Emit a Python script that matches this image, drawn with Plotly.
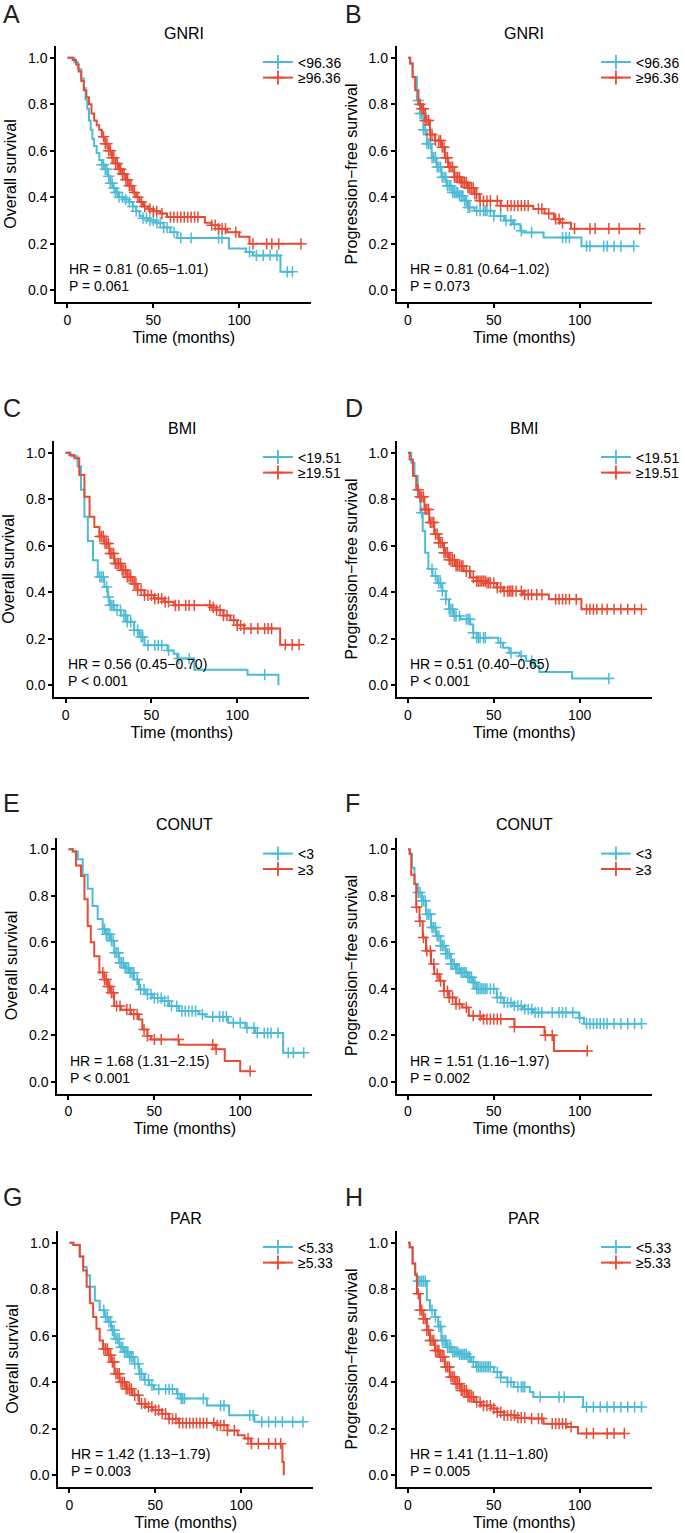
import plotly.graph_objects as go

# ---------------- data ----------------
BLUE = "#4DBBD5"
RED = "#E64B35"

panel_letters = ["A", "B", "C", "D", "E", "F", "G", "H"]
panel_titles = ["GNRI", "GNRI", "BMI", "BMI", "CONUT", "CONUT", "PAR", "PAR"]
y_titles = ["Overall survival", "Progression\u2212free survival"] * 4
group_lo = ["<96.36", "<96.36", "<19.51", "<19.51", "<3", "<3", "<5.33", "<5.33"]
group_hi = ["\u226596.36", "\u226596.36", "\u226519.51", "\u226519.51", "\u22653", "\u22653", "\u22655.33", "\u22655.33"]
hr_text = ["HR = 0.81 (0.65\u22121.01)", "HR = 0.81 (0.64\u22121.02)", "HR = 0.56 (0.45\u22120.70)",
           "HR = 0.51 (0.40\u22120.65)", "HR = 1.68 (1.31\u22122.15)", "HR = 1.51 (1.16\u22121.97)",
           "HR = 1.42 (1.13\u22121.79)", "HR = 1.41 (1.11\u22121.80)"]
p_text = ["P = 0.061", "P = 0.073", "P < 0.001", "P < 0.001", "P < 0.001", "P = 0.002", "P = 0.003", "P = 0.005"]

# Panel A (OS, GNRI)
A_lo_t = [4, 6, 8, 9.5, 10.5, 11.5, 12.5, 13.5, 14.5, 15.5, 17, 18.5, 20, 22, 23.5, 25, 26.5, 28, 30, 33, 36, 38, 40, 42, 44, 47, 52, 56, 60, 64, 94, 104, 108, 124]
A_lo_s = [0.98, 0.95, 0.91, 0.87, 0.82, 0.78, 0.73, 0.69, 0.65, 0.62, 0.59, 0.56, 0.54, 0.52, 0.49, 0.46, 0.44, 0.42, 0.40, 0.39, 0.38, 0.36, 0.34, 0.32, 0.31, 0.30, 0.29, 0.27, 0.25, 0.225, 0.18, 0.165, 0.15, 0.08]
A_lo_c = [20, 21, 22, 23, 24, 25, 26, 27, 28, 29, 30, 32, 34, 36, 38, 40, 44, 46, 48, 50, 52, 54, 56, 58, 62, 66, 72, 88, 90, 106, 110, 114, 118, 122, 128, 131]
A_hi_t = [3, 5, 6.5, 8, 9.5, 11, 12.5, 14, 15.5, 17, 18.5, 20, 22, 24, 26, 28, 30, 32, 34, 36, 38, 40, 42, 44, 47, 50, 54, 58, 80, 84, 88, 93, 100, 106]
A_hi_s = [0.99, 0.97, 0.94, 0.90, 0.86, 0.83, 0.80, 0.76, 0.73, 0.71, 0.69, 0.66, 0.63, 0.60, 0.57, 0.545, 0.52, 0.50, 0.475, 0.45, 0.42, 0.40, 0.38, 0.36, 0.35, 0.34, 0.33, 0.315, 0.29, 0.28, 0.265, 0.25, 0.23, 0.20]
A_hi_c = [21, 22, 23, 24, 25, 26, 27, 28, 29, 30, 31, 32, 33, 34, 35, 36, 37, 39, 41, 43, 45, 48, 50, 52, 55, 60, 62, 64, 66, 68, 70, 72, 74, 76, 84, 86, 88, 90, 92, 98, 108, 116, 119, 123, 136]

# Panel B (PFS, GNRI)
B_lo_t = [1.3, 2.7, 5.2, 7, 9, 11, 13.8, 16.7, 19.5, 22.4, 26, 30, 33, 35, 38.7, 50, 56, 61, 65.5, 67, 79, 101]
B_lo_s = [0.975, 0.917, 0.816, 0.76, 0.69, 0.63, 0.57, 0.53, 0.486, 0.45, 0.42, 0.407, 0.385, 0.356, 0.342, 0.32, 0.30, 0.284, 0.256, 0.249, 0.227, 0.19]
B_lo_c = [6, 7, 8, 9, 10, 11, 12, 13, 14, 15, 16, 17, 18, 19, 20, 21, 22, 23, 24, 25, 26, 27, 28, 29, 30, 31, 32, 33, 34, 35, 36, 40, 42, 44, 45, 46, 48, 50, 54, 57, 60, 62, 66, 72, 90, 92, 94, 104, 106, 114, 116, 120, 124, 131.5]
B_hi_t = [1.3, 2.7, 4.2, 6.1, 8, 10, 12.8, 15.7, 19.5, 21.5, 23.4, 27, 31, 35, 38.7, 41.6, 54, 73, 79.5, 85, 88.5, 95]
B_hi_s = [0.975, 0.917, 0.86, 0.80, 0.78, 0.73, 0.67, 0.644, 0.615, 0.57, 0.53, 0.486, 0.464, 0.44, 0.414, 0.385, 0.364, 0.35, 0.33, 0.306, 0.29, 0.265]
B_hi_c = [7, 8, 9, 10, 11, 12, 13, 14, 16, 18, 19, 20, 21, 22, 23, 24, 25, 26, 27, 28, 29, 30, 31, 32, 33, 34, 35, 36, 37, 38, 39, 40, 42, 44, 46, 48, 52, 54, 58, 60, 62, 64, 66, 68, 70, 76, 78, 82, 86, 88, 90, 97, 106, 109, 117, 123, 135]

# Panel C (OS, BMI)
C_lo_t = [3, 7, 9, 11, 13, 16, 18.8, 22.6, 24.6, 25.5, 28.4, 32.3, 36, 40, 43, 46, 59.4, 63, 65, 75, 106, 124]
C_lo_s = [0.985, 0.94, 0.84, 0.725, 0.62, 0.538, 0.466, 0.423, 0.38, 0.344, 0.323, 0.30, 0.273, 0.237, 0.208, 0.172, 0.15, 0.136, 0.115, 0.067, 0.046, 0.0]
C_lo_c = [20, 21, 22, 24, 25, 26, 27, 28, 30, 32, 34, 35, 36, 38, 40, 42, 44, 45, 48, 52, 54, 56, 60, 66, 72, 116]
C_hi_t = [2.3, 5.2, 8, 11, 14, 16.8, 19.7, 22.6, 25.5, 28.4, 32.3, 36, 39, 42, 46, 51.6, 57.4, 63, 84.5, 88, 92, 96, 100, 104, 125]
C_hi_s = [0.99, 0.976, 0.904, 0.81, 0.725, 0.68, 0.64, 0.61, 0.567, 0.524, 0.495, 0.466, 0.437, 0.409, 0.387, 0.373, 0.359, 0.344, 0.335, 0.323, 0.30, 0.28, 0.258, 0.244, 0.175]
C_hi_c = [20, 21, 22, 23, 24, 25, 26, 27, 28, 29, 30, 31, 32, 33, 34, 35, 36, 37, 38, 40, 41, 42, 44, 46, 48, 50, 52, 54, 56, 58, 60, 64, 66, 70, 72, 75, 84, 86, 88, 90, 92, 94, 98, 100, 102, 104, 108, 112, 116, 118, 120, 128, 132, 136]

# Panel D (PFS, BMI)
D_lo_t = [1.9, 3.8, 5.7, 7.3, 8.6, 10, 11.9, 14.3, 17.2, 20, 22, 23.9, 26.8, 30.6, 36.3, 38, 40, 52.6, 55.4, 59, 65, 68.8, 73.6, 76.5, 95.6]
D_lo_s = [0.957, 0.90, 0.807, 0.742, 0.663, 0.57, 0.50, 0.47, 0.44, 0.405, 0.37, 0.327, 0.298, 0.284, 0.262, 0.226, 0.205, 0.183, 0.162, 0.14, 0.126, 0.105, 0.083, 0.057, 0.029]
D_lo_c = [8, 14, 16, 18, 19, 20, 22, 24, 25, 26, 27, 28, 30, 34, 35, 36, 38, 40, 41, 42, 44, 45, 54, 60, 66, 72, 117]
D_hi_t = [1, 2.9, 4.8, 6.7, 9.6, 12.4, 15.3, 18, 21, 24, 27.7, 32.5, 36.3, 40, 46, 51.6, 55.4, 67, 82, 101]
D_hi_s = [0.97, 0.90, 0.84, 0.81, 0.756, 0.70, 0.65, 0.613, 0.57, 0.54, 0.513, 0.49, 0.463, 0.448, 0.44, 0.42, 0.405, 0.39, 0.37, 0.327]
D_hi_c = [6, 7, 8, 9, 10, 11, 12, 13, 14, 15, 16, 17, 18, 19, 20, 21, 22, 23, 24, 25, 26, 27, 28, 29, 30, 31, 32, 34, 36, 38, 40, 41, 42, 43, 44, 45, 46, 47, 48, 50, 52, 54, 56, 58, 59, 60, 61, 63, 66, 68, 70, 72, 75, 78, 86, 88, 90, 92, 94, 98, 104, 106, 108, 110, 113, 116, 120, 124, 128, 132, 136]

# Panel E (OS, CONUT)
E_lo_t = [2.5, 5.4, 8.3, 11.2, 14, 17, 19.9, 21.8, 24.7, 26.6, 29.5, 32.4, 35.3, 38.2, 41, 45, 48.8, 54.6, 58.5, 64.3, 75.9, 79.7, 93, 103, 108.7, 125]
E_lo_s = [0.99, 0.957, 0.89, 0.83, 0.756, 0.70, 0.656, 0.634, 0.606, 0.555, 0.512, 0.49, 0.469, 0.44, 0.397, 0.376, 0.36, 0.347, 0.326, 0.304, 0.29, 0.28, 0.254, 0.232, 0.21, 0.125]
E_lo_c = [20, 21, 22, 23, 24, 25, 26, 27, 28, 29, 30, 31, 32, 33, 34, 35, 36, 37, 38, 40, 42, 44, 46, 48, 50, 52, 54, 56, 58, 60, 63, 66, 68, 70, 72, 74, 78, 84, 88, 90, 92, 96, 100, 104, 108, 110, 114, 116, 118, 122, 128, 131, 137]
E_hi_t = [2.5, 4.4, 7.3, 9.3, 11.2, 13, 15, 18, 20.8, 22.8, 24.7, 26.6, 30.5, 36.3, 41, 43, 46, 48, 64.3, 85.5, 91, 100]
E_hi_s = [0.99, 0.93, 0.885, 0.785, 0.67, 0.60, 0.54, 0.47, 0.44, 0.41, 0.383, 0.326, 0.31, 0.29, 0.268, 0.225, 0.197, 0.182, 0.16, 0.14, 0.09, 0.046]
E_hi_c = [20, 21, 22, 23, 24, 25, 26, 28, 30, 34, 36, 38, 40, 44, 46, 50, 54, 64, 84, 86, 105.8]

# Panel F (PFS, CONUT)
F_lo_t = [1, 2.3, 3.8, 5.7, 8, 10.5, 13.4, 16.3, 19, 22, 25, 27.8, 30.7, 34.5, 37.4, 40, 51.7, 55.6, 61.3, 67, 72.8, 99.6, 102.5]
F_lo_s = [0.98, 0.92, 0.85, 0.814, 0.778, 0.72, 0.663, 0.627, 0.585, 0.55, 0.506, 0.485, 0.47, 0.45, 0.427, 0.40, 0.362, 0.34, 0.327, 0.312, 0.298, 0.276, 0.25]
F_lo_c = [6, 7, 8, 9, 10, 11, 12, 13, 14, 15, 16, 17, 18, 19, 20, 21, 22, 23, 24, 25, 26, 27, 28, 29, 30, 31, 32, 33, 34, 35, 36, 37, 38, 39, 40, 41, 42, 43, 44, 45, 46, 48, 50, 52, 54, 56, 58, 60, 62, 64, 66, 68, 70, 72, 74, 76, 78, 84, 88, 90, 92, 96, 100, 104, 106, 108, 110, 112, 114, 116, 120, 124, 128, 132, 136]
F_hi_t = [1, 1.9, 3.8, 4.8, 6.7, 8.6, 10.5, 13.4, 15.3, 18.2, 21, 24, 27.8, 31.6, 35.4, 43, 62, 79.5, 85]
F_hi_s = [0.98, 0.89, 0.85, 0.75, 0.69, 0.62, 0.563, 0.506, 0.463, 0.434, 0.39, 0.362, 0.334, 0.32, 0.284, 0.27, 0.236, 0.20, 0.133]
F_hi_c = [5, 7, 9, 11, 13, 15, 17, 19, 21, 23, 24, 26, 28, 30, 34, 38, 42, 44, 46, 48, 50, 52, 54, 62, 80, 84, 104.4]

# Panel G (OS, PAR)
G_lo_t = [2.3, 6, 8, 10, 11.9, 14.8, 17.6, 20.5, 22.4, 24.3, 26.2, 29.1, 32, 34.9, 37.7, 40.6, 43.5, 46.4, 49.2, 62.6, 64.6, 80, 93, 107.7]
G_lo_s = [0.99, 0.94, 0.895, 0.86, 0.81, 0.75, 0.71, 0.68, 0.66, 0.623, 0.587, 0.55, 0.53, 0.509, 0.48, 0.437, 0.41, 0.387, 0.37, 0.351, 0.33, 0.30, 0.258, 0.23]
G_lo_c = [20, 21, 22, 23, 24, 25, 26, 27, 28, 29, 30, 31, 32, 33, 34, 35, 36, 37, 38, 40, 41, 42, 44, 46, 48, 52, 56, 58, 60, 63, 65, 66, 67, 78, 88, 90, 105, 107, 112, 116, 120, 124, 130, 136]
G_hi_t = [2.3, 6, 8, 10, 11.9, 13.8, 15.7, 17.6, 19.5, 22.4, 24.3, 26.2, 29.1, 33, 36.8, 40.6, 44.4, 48.3, 54, 57.8, 63.6, 85, 92, 98, 102, 105.7, 124, 124.8]
G_hi_s = [0.99, 0.94, 0.88, 0.81, 0.74, 0.68, 0.63, 0.58, 0.544, 0.516, 0.487, 0.437, 0.40, 0.372, 0.344, 0.308, 0.294, 0.28, 0.265, 0.243, 0.225, 0.215, 0.193, 0.172, 0.158, 0.136, 0.057, 0.0]
G_hi_c = [20, 21, 22, 23, 24, 25, 26, 27, 28, 29, 30, 31, 32, 33, 34, 35, 36, 38, 40, 42, 44, 46, 48, 50, 52, 54, 56, 58, 60, 62, 64, 66, 68, 70, 72, 74, 76, 78, 80, 84, 86, 88, 90, 92, 96, 104, 106, 110, 116, 120, 123]

# Panel H (PFS, PAR)
H_lo_t = [1, 2.7, 4.2, 5.2, 11, 12.8, 15.7, 17.6, 19.5, 22.4, 25.3, 30, 34.9, 36.8, 39.7, 50, 54, 57.9, 61.7, 71, 73, 102]
H_lo_s = [0.98, 0.91, 0.867, 0.835, 0.753, 0.71, 0.68, 0.64, 0.58, 0.55, 0.53, 0.52, 0.509, 0.487, 0.466, 0.444, 0.42, 0.40, 0.38, 0.358, 0.337, 0.294]
H_lo_c = [6, 7, 8, 9, 10, 14, 16, 18, 19, 20, 21, 22, 23, 24, 25, 26, 27, 28, 29, 30, 31, 32, 33, 34, 35, 36, 38, 40, 41, 42, 43, 44, 45, 46, 47, 48, 52, 54, 58, 60, 64, 66, 67, 68, 77, 88, 91, 104, 108, 112, 116, 120, 124, 128, 132, 136]
H_hi_t = [1, 2.7, 4.2, 5.2, 7, 9, 11, 12.8, 15.7, 18.6, 21.5, 24.3, 27.2, 31, 34.9, 38.7, 42.5, 48.3, 52, 56, 62.6, 71, 79, 92.3, 99]
H_hi_s = [0.98, 0.91, 0.86, 0.78, 0.71, 0.673, 0.623, 0.58, 0.537, 0.51, 0.466, 0.423, 0.394, 0.365, 0.337, 0.315, 0.30, 0.287, 0.272, 0.258, 0.248, 0.244, 0.222, 0.208, 0.18]
H_hi_c = [6, 7, 8, 9, 10, 11, 12, 13, 14, 15, 16, 17, 18, 19, 20, 21, 22, 23, 24, 25, 26, 27, 28, 29, 30, 31, 32, 33, 34, 35, 36, 37, 38, 40, 42, 44, 46, 48, 50, 52, 54, 56, 58, 60, 62, 64, 66, 68, 72, 76, 78, 84, 86, 88, 90, 92, 95, 104, 108, 116, 120, 126]

curves = [
    (A_lo_t, A_lo_s, A_lo_c, A_hi_t, A_hi_s, A_hi_c),
    (B_lo_t, B_lo_s, B_lo_c, B_hi_t, B_hi_s, B_hi_c),
    (C_lo_t, C_lo_s, C_lo_c, C_hi_t, C_hi_s, C_hi_c),
    (D_lo_t, D_lo_s, D_lo_c, D_hi_t, D_hi_s, D_hi_c),
    (E_lo_t, E_lo_s, E_lo_c, E_hi_t, E_hi_s, E_hi_c),
    (F_lo_t, F_lo_s, F_lo_c, F_hi_t, F_hi_s, F_hi_c),
    (G_lo_t, G_lo_s, G_lo_c, G_hi_t, G_hi_s, G_hi_c),
    (H_lo_t, H_lo_s, H_lo_c, H_hi_t, H_hi_s, H_hi_c),
]

# ---------------- layout geometry (pixels) ----------------
W, H = 685, 1533
FONT = "Liberation Sans, Arial, sans-serif"
col_left = [[57, 401.5], [55, 401.5], [58, 401.5], [59, 401.5]]
row_top = [46, 441, 837.5, 1231]
PW, PH = 258, 256
letter_y = [14, 408, 803, 1197]
letter_x = [1, 347]
legend_text_x = [300, 642]


def step_curve(t, s, c):
    xs = [0] + list(t)
    ys = [1.0] + list(s)
    end = max(max(c), t[-1])
    if end > t[-1]:
        xs.append(end)
        ys.append(s[-1])
    return xs, ys


def surv_at(t, s, x):
    v = 1.0
    for ti, si in zip(t, s):
        if ti <= x:
            v = si
        else:
            break
    return v


fig = go.Figure()
annotations = []
layout_axes = {}

for i in range(8):
    r, cidx = divmod(i, 2)
    left = col_left[r][cidx]
    top = row_top[r]
    xd = [left / W, (left + PW) / W]
    yd = [1 - (top + PH) / H, 1 - top / H]
    n = "" if i == 0 else str(i + 1)
    xa, ya = "x" + n, "y" + n

    lo_t, lo_s, lo_c, hi_t, hi_s, hi_c = curves[i]
    groups = [(lo_t, lo_s, lo_c, BLUE, group_lo[i]), (hi_t, hi_s, hi_c, RED, group_hi[i])]
    for k, (t, s, c, col, name) in enumerate(groups):
        xs, ys = step_curve(t, s, c)
        fig.add_trace(go.Scatter(x=xs, y=ys, mode="lines", line=dict(color=col, width=2, shape="hv"),
                                 xaxis=xa, yaxis=ya, showlegend=False, hoverinfo="skip"))
        fig.add_trace(go.Scatter(x=c, y=[surv_at(t, s, v) for v in c], mode="markers",
                                 marker=dict(symbol="cross-thin", size=8, line=dict(color=col, width=1.5)),
                                 xaxis=xa, yaxis=ya, showlegend=False, hoverinfo="skip"))
        # legend entry (one legend box per entry so the rows sit where the reference has them)
        lg_idx = 2 * i + k + 1
        lg = "legend" if lg_idx == 1 else "legend" + str(lg_idx)
        fig.add_trace(go.Scatter(x=[None], y=[None], mode="lines+markers", name=name,
                                 line=dict(color=col, width=2),
                                 marker=dict(symbol="cross-thin", size=10, line=dict(color=col, width=1.8)),
                                 xaxis=xa, yaxis=ya, legend=lg, showlegend=True))
        layout_axes[lg] = dict(
            x=(legend_text_x[cidx] - 39) / W, y=1 - (top + 0.5 + 15.5 * k) / H,
            xanchor="left", yanchor="top", bgcolor="rgba(0,0,0,0)",
            font=dict(size=14, color="black", family=FONT), itemwidth=30)

    layout_axes["xaxis" + n] = dict(
        domain=xd, range=[-6.5, 142], anchor=ya, tickvals=[0, 50, 100],
        showline=True, linewidth=2, linecolor="black", ticks="outside", ticklen=4, tickwidth=2,
        tickcolor="black", showgrid=False, zeroline=False, tickfont=dict(size=14, color="black", family=FONT),
        title=dict(text="Time (months)", font=dict(size=16, color="black", family=FONT), standoff=5))
    layout_axes["yaxis" + n] = dict(
        domain=yd, range=[-0.05, 1.05], anchor=xa, tickvals=[0, 0.2, 0.4, 0.6, 0.8, 1.0],
        ticktext=["0.0", "0.2", "0.4", "0.6", "0.8", "1.0"],
        showline=True, linewidth=2, linecolor="black", ticks="outside", ticklen=4, tickwidth=2,
        tickcolor="black", showgrid=False, zeroline=False, tickfont=dict(size=14, color="black", family=FONT),
        title=dict(text=y_titles[i], font=dict(size=16, color="black", family=FONT), standoff=7))

    annotations.append(dict(text=panel_titles[i], x=(left + PW / 2) / W, y=1 - (top - 13) / H,
                            xref="paper", yref="paper", showarrow=False, xanchor="center", yanchor="middle",
                            font=dict(size=16, color="black", family=FONT)))
    annotations.append(dict(text=panel_letters[i], x=letter_x[cidx] / W, y=1 - letter_y[r] / H,
                            xref="paper", yref="paper", showarrow=False, xanchor="left", yanchor="middle",
                            font=dict(size=25, color="#231F20", family=FONT)))
    annotations.append(dict(text=hr_text[i], x=0, y=0.09, xref=xa, yref=ya, showarrow=False,
                            xanchor="left", yanchor="middle", font=dict(size=14, color="black", family=FONT)))
    annotations.append(dict(text=p_text[i], x=0, y=0.017, xref=xa, yref=ya, showarrow=False,
                            xanchor="left", yanchor="middle", font=dict(size=14, color="black", family=FONT)))

fig.update_layout(
    width=W, height=H, margin=dict(l=0, r=0, t=0, b=0),
    paper_bgcolor="white", plot_bgcolor="white",
    font=dict(family=FONT, color="black"),
    annotations=annotations,
    **layout_axes,
)

fig.write_html("out.html", config={"displayModeBar": False},
               post_script="document.body.style.margin='0';document.body.style.overflow='hidden';")
